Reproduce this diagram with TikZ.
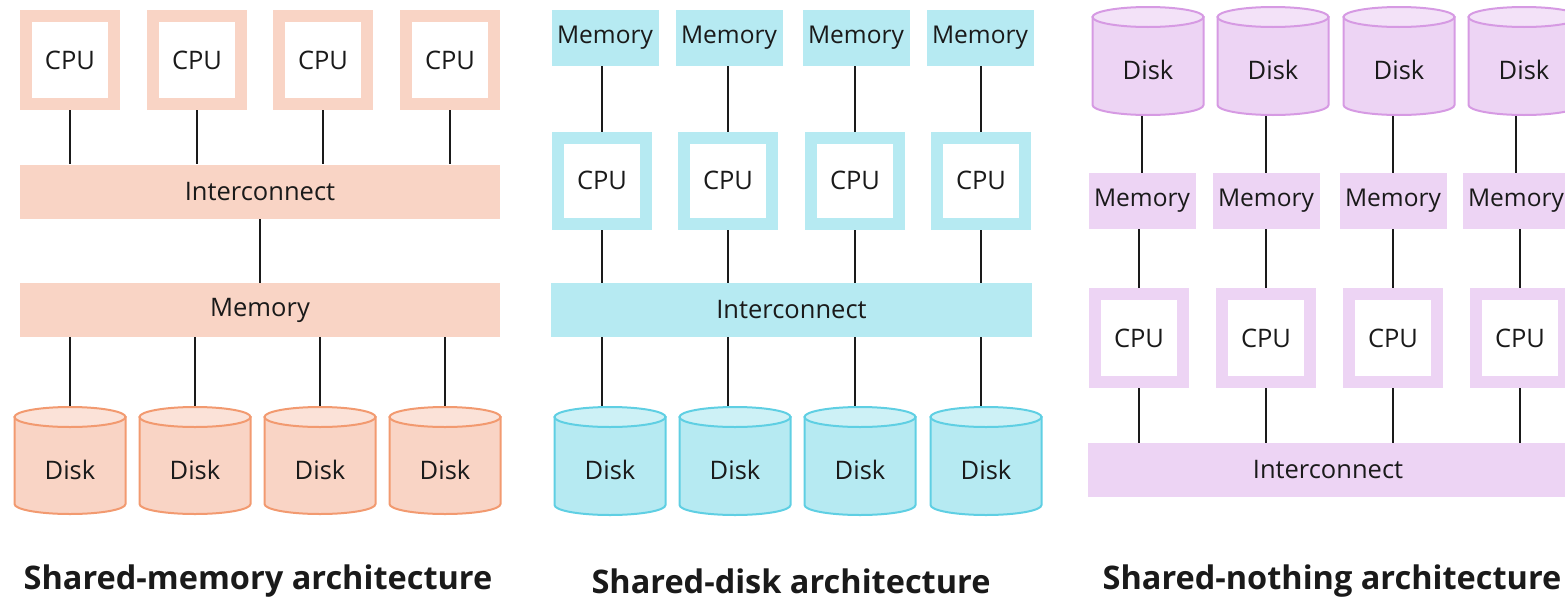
\documentclass[tikz,border=0pt]{standalone}
\usepackage{fontspec}
\setmainfont{Open Sans}
\usetikzlibrary{backgrounds}
\definecolor{orF}{HTML}{F9D4C5}
\definecolor{orT}{HTML}{FBE2D8}
\definecolor{orS}{HTML}{F29A70}
\definecolor{cyF}{HTML}{B6EAF2}
\definecolor{cyT}{HTML}{CDF1F6}
\definecolor{cyS}{HTML}{5FCFE3}
\definecolor{puF}{HTML}{EDD4F4}
\definecolor{puT}{HTML}{F3E2F8}
\definecolor{puS}{HTML}{D69AE3}
\definecolor{ink}{HTML}{1A1A1A}
\tikzset{
  lbl/.style={font=\fontsize{25.5}{29}\selectfont, text=ink},
  bar/.style={lbl, inner sep=0, minimum height=54pt},
  cpubox/.style={lbl, fill=white, line width=12pt, minimum width=88pt, minimum height=88pt, inner sep=0},
  membox/.style={lbl, font=\fontsize{24.5}{28}\selectfont, inner sep=0, minimum width=107pt, minimum height=56pt},
  conn/.style={line width=2pt, ink},
  archtitle/.style={font=\bfseries\fontsize{32.5}{36}\selectfont, text=ink},
}
% name, cx, top y, bottom y, body fill, top fill, stroke
\newcommand{\dbdisk}[7]{%
  \path[fill=#5, draw=#7, line width=2pt] (#2-55.5,#3+10) -- (#2-55.5,#4-10)
     arc[start angle=180, end angle=0, x radius=55.5, y radius=10] -- (#2+55.5,#3+10) -- cycle;
  \path[fill=#6, draw=#7, line width=2pt] (#2,#3+10) ellipse[x radius=55.5, y radius=10];
  \node[inner sep=0, minimum width=111pt, minimum height=#4-#3, anchor=north] (#1) at (#2,#3) {};
  \node[lbl] (#1-l) at (#2,{(#3+#4)/2+9}) {Disk};
}
\begin{document}
\begin{tikzpicture}[x=1pt,y=-1pt]
\useasboundingbox (0,0) rectangle (1565,600);
\clip (0,0) rectangle (1565,600);

% ---------- Shared-memory ----------
\foreach \i/\x in {1/70,2/197,3/323,4/450}
  \node[cpubox, draw=orF] (Lc\i) at (\x,60) {CPU};
\node[bar, fill=orF, minimum width=480pt] (Lic) at (260,191.5) {Interconnect};
\node[bar, fill=orF, minimum width=480pt] (Lmem) at (260,310) {Memory};
\dbdisk{Ld1}{70}{407}{514}{orF}{orT}{orS}
\dbdisk{Ld2}{195}{407}{514}{orF}{orT}{orS}
\dbdisk{Ld3}{320}{407}{514}{orF}{orT}{orS}
\dbdisk{Ld4}{445}{407}{514}{orF}{orT}{orS}
\node[archtitle] (Lt) at (258,581) {Shared-memory architecture};

% ---------- Shared-disk ----------
\foreach \i/\x in {1/605,2/729,3/856,4/980}
  \node[membox, fill=cyF] (Mm\i) at (\x,38) {Memory};
\foreach \i/\x in {1/602,2/728,3/855,4/981}
  \node[cpubox, draw=cyF, minimum height=86pt] (Mc\i) at (\x,180.5) {CPU};
\node[bar, fill=cyF, minimum width=481pt] (Mic) at (791.5,310) {Interconnect};
\dbdisk{Md1}{610}{407}{515}{cyF}{cyT}{cyS}
\dbdisk{Md2}{735}{407}{515}{cyF}{cyT}{cyS}
\dbdisk{Md3}{860}{407}{515}{cyF}{cyT}{cyS}
\dbdisk{Md4}{986}{407}{515}{cyF}{cyT}{cyS}
\node[archtitle] (Mt) at (791,581) {Shared-disk architecture};

% ---------- Shared-nothing ----------
\dbdisk{Rd1}{1148}{7}{115}{puF}{puT}{puS}
\dbdisk{Rd2}{1273}{7}{115}{puF}{puT}{puS}
\dbdisk{Rd3}{1399}{7}{115}{puF}{puT}{puS}
\dbdisk{Rd4}{1524}{7}{115}{puF}{puT}{puS}
\foreach \i/\x in {1/1142,2/1266,3/1393,4/1516}
  \node[membox, fill=puF] (Rm\i) at (\x,201) {Memory};
\foreach \i/\x in {1/1139,2/1266,3/1393,4/1520}
  \node[cpubox, draw=puF] (Rc\i) at (\x,338) {CPU};
\node[bar, fill=puF, minimum width=480pt] (Ric) at (1328,470) {Interconnect};
\node[archtitle] (Rt) at (1332,581) {Shared-nothing architecture};

% ---------- connectors ----------
\begin{scope}[on background layer]
  \foreach \i in {1,...,4} {
    \draw[conn] (Lc\i) -- (Lc\i |- Lic.north);
    \draw[conn] (Lmem.south -| Ld\i) -- (Ld\i.north);
    \draw[conn] (Mm\i.south -| Mc\i) -- (Mc\i);
    \draw[conn] (Mc\i) -- (Mc\i |- Mic.north);
    \draw[conn] (Mic.south -| Mc\i) -- (Md\i.north -| Mc\i);
    \draw[conn] (Rd\i.south -| Rm\i) -- (Rm\i);
    \draw[conn] (Rm\i.south -| Rc\i) -- (Rc\i);
    \draw[conn] (Rc\i) -- (Rc\i |- Ric.north);
  }
  \draw[conn] (Lic) -- (Lmem);
\end{scope}
\end{tikzpicture}
\end{document}
